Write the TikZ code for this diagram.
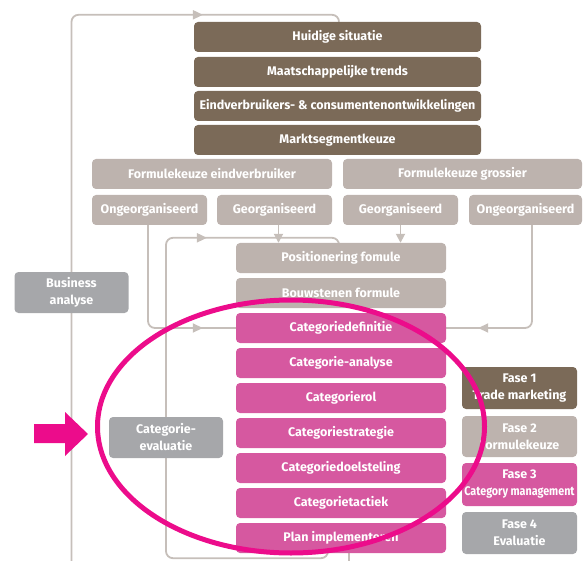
\documentclass[tikz,border=0pt]{standalone}
\usepackage{fontspec}
\setmainfont{Fira Sans}
\usetikzlibrary{arrows.meta,backgrounds,decorations.markings}
\definecolor{brownbox}{HTML}{7B6A58}
\definecolor{taupebox}{HTML}{BDB3AE}
\definecolor{pinkbox}{HTML}{D658A0}
\definecolor{graybox}{HTML}{A6A7AA}
\definecolor{connc}{HTML}{C6BFBA}
\definecolor{hotpink}{HTML}{EC0C8B}
\begin{document}
\begin{tikzpicture}[x=1pt,y=-1pt,
  box/.style={rounded corners=4pt, inner sep=0pt, text=white,
    font=\bfseries\fontsize{12.5}{17}\selectfont, align=center},
  brownb/.style={box, fill=brownbox},
  taupeb/.style={box, fill=taupebox},
  pinkb/.style={box, fill=pinkbox},
  grayb/.style={box, fill=graybox},
  wide/.style={minimum width=210pt, minimum height=30pt},
  conn/.style={draw=connc, line width=1.8pt, rounded corners=7pt},
  tipat/.style={postaction={decorate}, decoration={markings,
    mark=at position #1 with {\arrow[connc]{Triangle[length=10pt,width=9pt]}}}},
  endtip/.style={-{Triangle[length=9pt,width=9pt]}}
]
\useasboundingbox (0,0) rectangle (583,561);

% top brown boxes
\node[brownb, minimum width=287pt, minimum height=30pt] (hs) at (337.5,37) {Huidige situatie};
\node[brownb, minimum width=287pt, minimum height=30pt] (mt) at (337.5,72) {Maatschappelijke trends};
\node[brownb, minimum width=287pt, minimum height=30pt] (ec) at (337.5,106) {Eindverbruikers- \& consumentenontwikkelingen};
\node[brownb, minimum width=287pt, minimum height=30pt] (mk) at (337.5,140) {Marktsegmentkeuze};

% formulekeuze
\node[taupeb, minimum width=240pt, minimum height=30pt] (fe) at (212,174) {Formulekeuze eindverbruiker};
\node[taupeb, minimum width=239pt, minimum height=30pt] (fg) at (462.5,174) {Formulekeuze grossier};
\node[taupeb, minimum width=115pt, minimum height=30pt] (o1) at (149.5,210) {Ongeorganiseerd};
\node[taupeb, minimum width=115pt, minimum height=30pt] (g1) at (274.5,210) {Georganiseerd};
\node[taupeb, minimum width=115pt, minimum height=30pt] (g2) at (400.5,210) {Georganiseerd};
\node[taupeb, minimum width=113pt, minimum height=30pt] (o2) at (525.5,210) {Ongeorganiseerd};

% central column
\node[taupeb, wide] (pos) at (341,258) {Positionering fomule};
\node[taupeb, wide] (bouw) at (341,293) {Bouwstenen formule};
\node[pinkb, wide] (cdef) at (341,328) {Categoriedefinitie};
\node[pinkb, wide] (cana) at (341,363) {Categorie-analyse};
\node[pinkb, wide] (crol) at (341,398) {Categorierol};
\node[pinkb, wide] (cstr) at (341,433) {Categoriestrategie};
\node[pinkb, wide] (cdoel) at (341,468) {Categoriedoelsteling};
\node[pinkb, wide] (ctac) at (341,503) {Categorietactiek};
\node[pinkb, wide] (plan) at (341,538) {Plan implementeren};

% side boxes
\node[grayb, minimum width=114pt, minimum height=41pt] (ba) at (71.5,292.5) {Business\\analyse};
\node[grayb, minimum width=114pt, minimum height=41pt] (ce) at (166,437.5) {Categorie-\\evaluatie};

% legend
\node[brownb, minimum width=115pt, minimum height=42pt] (f1) at (519.5,388) {Fase 1\\Trade marketing};
\node[taupeb, minimum width=115pt, minimum height=41pt] (f2) at (519.5,436.5) {Fase 2\\Formulekeuze};
\node[pinkb, minimum width=115pt, minimum height=43pt] (f3) at (519.5,484.5) {Fase 3\\\scalebox{0.86}[1]{Category management}};
\node[grayb, minimum width=115pt, minimum height=42pt] (f4) at (519.5,533) {Fase 4\\Evaluatie};

% connectors
\begin{scope}[on background layer]
\clip (0,0) rectangle (583,561);
\draw[conn, tipat=-140pt] ([xshift=8pt]plan.south) -- ++(0,22) -| (ba.center)
  |- ([xshift=1.5pt,yshift=7pt]hs.north) -- ([xshift=1.5pt]hs.north);
\draw[conn, tipat=-138pt] ([xshift=-13pt]plan.south) -- ++(0,5) -| (ce.center)
  |- ([xshift=-2pt,yshift=5pt]pos.north) -- ([xshift=-2pt]pos.north);
\draw[conn, tipat=-33pt] ([xshift=-1.5pt]o1.south) |- (cdef.west);
\draw[conn, tipat=-32pt] ([xshift=6.5pt]o2.south) |- (cdef.east);
\draw[conn, endtip] ([xshift=4pt]g1.south) -- ([xshift=4pt]g1.south |- pos.north);
\draw[conn, endtip] (g2.south) -- (g2.south |- pos.north);
\end{scope}

% highlight
\draw[hotpink, line width=5pt] (291,426.5) ellipse [x radius=193.5pt, y radius=126.5pt];
\fill[hotpink] (34,424) -- (65,424) -- (65,412) -- (88,434) -- (65,456) -- (65,443) -- (34,443) -- cycle;
\end{tikzpicture}
\end{document}
